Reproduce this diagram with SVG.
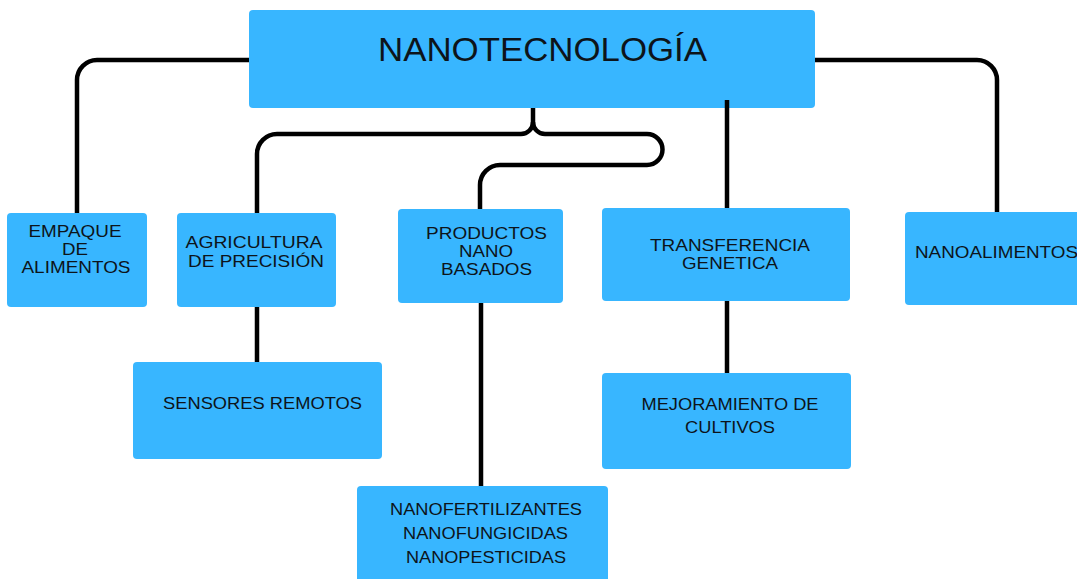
<svg xmlns="http://www.w3.org/2000/svg" width="1077" height="579" viewBox="0 0 1077 579">
<style>
.box{fill:#38b6ff;}
.t{font-family:"Liberation Sans",Arial,sans-serif;font-size:17px;fill:#0d141a;text-anchor:middle;}
.title{font-family:"Liberation Sans",Arial,sans-serif;font-size:33px;fill:#0d141a;text-anchor:middle;}
.c{fill:none;stroke:#000;stroke-width:4.5;stroke-linecap:butt;}
</style>
<rect width="1077" height="579" fill="#fff"/>
<g id="nanotecnologia">
<rect class="box" x="249" y="10" width="566" height="98" rx="4"/>
<text class="title" x="542.5" y="61" textLength="329" lengthAdjust="spacingAndGlyphs">NANOTECNOLOGÍA</text>
</g>
<g id="empaque">
<rect class="box" x="7" y="213" width="140" height="94" rx="4"/>
<text class="t" x="75" y="237" textLength="93" lengthAdjust="spacingAndGlyphs">EMPAQUE</text>
<text class="t" x="75" y="255" textLength="26" lengthAdjust="spacingAndGlyphs">DE</text>
<text class="t" x="76" y="273" textLength="109" lengthAdjust="spacingAndGlyphs">ALIMENTOS</text>
</g>
<g id="agricultura">
<rect class="box" x="177" y="213" width="159" height="94" rx="4"/>
<text class="t" x="254" y="248" textLength="137" lengthAdjust="spacingAndGlyphs">AGRICULTURA</text>
<text class="t" x="256" y="267" textLength="136" lengthAdjust="spacingAndGlyphs">DE PRECISIÓN</text>
</g>
<g id="sensores">
<rect class="box" x="133" y="362" width="249" height="97" rx="4"/>
<text class="t" x="262.5" y="409" textLength="199" lengthAdjust="spacingAndGlyphs">SENSORES REMOTOS</text>
</g>
<g id="productos">
<rect class="box" x="398" y="209" width="165" height="94" rx="4"/>
<text class="t" x="486.5" y="239" textLength="121" lengthAdjust="spacingAndGlyphs">PRODUCTOS</text>
<text class="t" x="486" y="257" textLength="54" lengthAdjust="spacingAndGlyphs">NANO</text>
<text class="t" x="486.5" y="275" textLength="91" lengthAdjust="spacingAndGlyphs">BASADOS</text>
</g>
<g id="nanofertilizantes">
<rect class="box" x="357" y="486" width="251" height="100" rx="4"/>
<text class="t" x="486" y="515" textLength="192" lengthAdjust="spacingAndGlyphs">NANOFERTILIZANTES</text>
<text class="t" x="485.5" y="539" textLength="165" lengthAdjust="spacingAndGlyphs">NANOFUNGICIDAS</text>
<text class="t" x="486" y="563" textLength="160" lengthAdjust="spacingAndGlyphs">NANOPESTICIDAS</text>
</g>
<g id="transferencia">
<rect class="box" x="602" y="208" width="248" height="93" rx="4"/>
<text class="t" x="730" y="251" textLength="160" lengthAdjust="spacingAndGlyphs">TRANSFERENCIA</text>
<text class="t" x="730" y="269" textLength="96" lengthAdjust="spacingAndGlyphs">GENETICA</text>
</g>
<g id="mejoramiento">
<rect class="box" x="602" y="373" width="249" height="96" rx="4"/>
<text class="t" x="730" y="410" textLength="177" lengthAdjust="spacingAndGlyphs">MEJORAMIENTO DE</text>
<text class="t" x="730" y="433" textLength="90" lengthAdjust="spacingAndGlyphs">CULTIVOS</text>
</g>
<g id="nanoalimentos">
<rect class="box" x="905" y="212" width="180" height="93" rx="4"/>
<text class="t" x="915" y="258" style="text-anchor:start" textLength="163" lengthAdjust="spacingAndGlyphs">NANOALIMENTOS</text>
</g>
<g id="connectors">
<path class="c" d="M249,60 H97 A20,20 0 0 0 77,80 V213"/>
<path class="c" d="M815,60 H977 A20,20 0 0 1 997,80 V212"/>
<path class="c" d="M533,108 V122 A12,12 0 0 1 521,134 H277 A20,20 0 0 0 257,154 V213"/>
<path class="c" d="M533,122 A12,12 0 0 0 545,134 H647 A15.5,15.5 0 0 1 647,165 H500 A20,20 0 0 0 480,185 V209"/>
<path class="c" d="M727,100 V208"/>
<path class="c" d="M727,301 V373"/>
<path class="c" d="M257,307 V362"/>
<path class="c" d="M481,303 V486"/>
</g>
</svg>
